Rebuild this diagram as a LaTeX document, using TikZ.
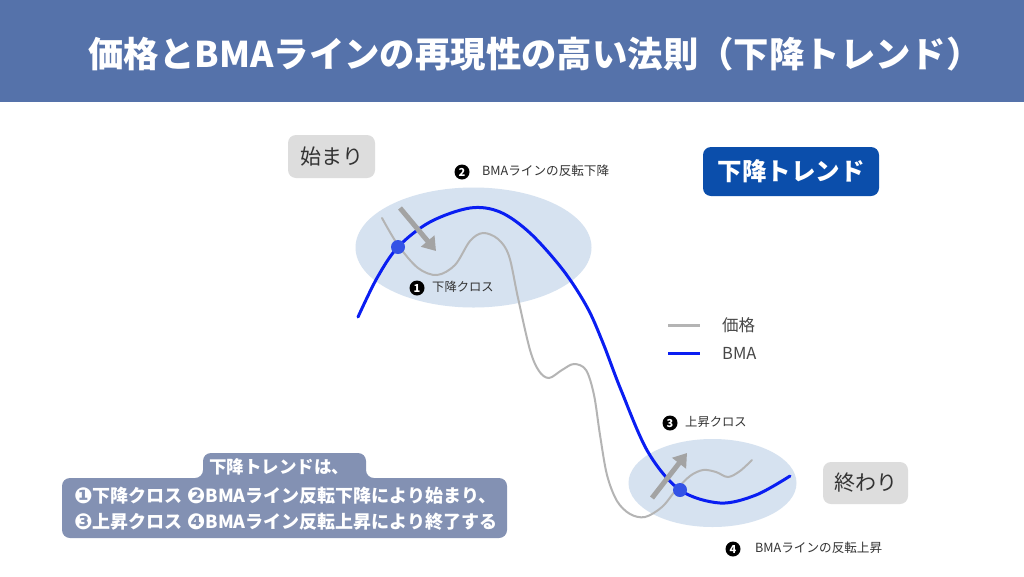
\documentclass[tikz,border=0pt]{standalone}
\usepackage{fontspec}
\setmainfont{Noto Sans CJK JP}
\newfontfamily\dv{DejaVu Sans}
\usetikzlibrary{arrows.meta,shapes.geometric}
\definecolor{titlebg}{HTML}{5572AA}
\definecolor{sumbg}{HTML}{8391B3}
\definecolor{trendbg}{HTML}{0B4EAB}
\definecolor{graybox}{HTML}{DDDDDD}
\definecolor{ellfill}{HTML}{D6E2F0}
\definecolor{bmablue}{HTML}{0A1EF2}
\definecolor{pricegray}{HTML}{B4B4B4}
\definecolor{dotblue}{HTML}{3352E6}
\definecolor{arrowgray}{HTML}{A3A3A3}
\definecolor{textdark}{HTML}{333333}
\newcommand{\cnum}[1]{{\dv\fontsize{22}{20}\selectfont\raisebox{-0.6pt}{#1}}}
\tikzset{
  zone/.style={ellipse, fill=ellfill, inner sep=0pt},
  crossdot/.style={circle, fill=dotblue, minimum size=14pt, inner sep=0pt},
  phasebox/.style={rounded corners=8pt, fill=graybox, inner sep=0pt, text=textdark, font=\fontsize{21}{24}\selectfont},
  numlabel/.style={circle, fill=black, minimum size=15pt, inner sep=0pt, text=white, font=\bfseries\fontsize{11}{12}\selectfont},
  smalllabel/.style={anchor=west, inner sep=0pt, font=\fontsize{12.3}{14}\selectfont, text=textdark},
  legendtext/.style={anchor=west, inner sep=0pt, font=\fontsize{16.5}{18}\selectfont, text=textdark!90},
  bigarrow/.style={-{Triangle[length=13pt,width=17pt]}, line width=5pt, arrowgray},
  sumtext/.style={inner sep=0pt, text=white, font=\bfseries\fontsize{18}{20}\selectfont},
}
\begin{document}
\begin{tikzpicture}[x=1pt,y=-1pt]
\useasboundingbox (0,0) rectangle (1024,576);
\fill[white] (0,0) rectangle (1024,576);
% title bar
\fill[titlebg] (0,0) rectangle (1024,102);
\node[text=white, font=\bfseries\fontsize{35.4}{40}\selectfont] (title) at (535,54) {価格とBMAラインの再現性の高い法則（下降トレンド）};

% zones
\node[zone, minimum width=236pt, minimum height=120pt] (z1) at (473.5,247.5) {};
\node[zone, minimum width=168pt, minimum height=88pt] (z2) at (712.5,483) {};

% price curve
\draw[pricegray, line width=2pt, line cap=round] plot[smooth, tension=0.55] coordinates {
 (382,218) (398,245) (418,268) (437,275) (455,265) (470,241) (483,233) (498,239) (509,256) (518,298) (530,350) (539,371) (549,378) (562,370) (574,364) (586,370) (594,395) (600,435) (607,475) (617,501) (630,514) (645,517) (662,507) (676,490) (690,476) (703,470) (716,472) (728,477) (740,471) (752,460)};

% BMA curve
\draw[bmablue, line width=3pt, line cap=round] plot[smooth, tension=0.55] coordinates {
 (358,317) (377,278) (398,247) (430,222) (470,208) (500,212) (530,233) (563,270) (587,307) (603,343) (621,390) (648,452) (680,490) (720,503) (756,495) (790,476)};

% arrows
\coordinate (a1s) at (400,208);
\coordinate (a1e) at (436,251);
\coordinate (a2s) at (652,498);
\coordinate (a2e) at (687,453);
\draw[bigarrow] (a1s) -- (a1e);
\draw[bigarrow] (a2s) -- (a2e);

% cross dots
\node[crossdot] (d1) at (398,247) {};
\node[crossdot] (d2) at (680,490) {};

% labels
\node[numlabel] (n2) at (462,172) {2};
\node[smalllabel, font=\fontsize{12.6}{14}\selectfont] (l2) at (482,171) {BMAラインの反転下降};
\node[numlabel] (n1) at (417,288) {1};
\node[smalllabel] (l1) at (432,287) {下降クロス};
\node[numlabel] (n3) at (670,423) {3};
\node[smalllabel] (l3) at (685,422) {上昇クロス};
\node[numlabel] (n4) at (733,549) {4};
\node[smalllabel, font=\fontsize{12.6}{14}\selectfont] (l4) at (755,548) {BMAラインの反転上昇};

% phase boxes
\node[phasebox, minimum width=87pt, minimum height=43pt] (start) at (331.5,156.5) {始まり};
\node[phasebox, minimum width=85pt, minimum height=42pt] (end) at (865.5,483) {終わり};
\node[rounded corners=8pt, fill=trendbg, inner sep=0pt, minimum width=176pt, minimum height=49pt, text=white, font=\bfseries\fontsize{24.5}{28}\selectfont] (trend) at (791,171.5) {下降トレンド};

% legend
\coordinate (g1a) at (668,325);
\coordinate (g1b) at (700,325);
\coordinate (g2a) at (668,353);
\coordinate (g2b) at (700,353);
\draw[pricegray, line width=3pt] (g1a) -- (g1b);
\draw[bmablue, line width=3pt] (g2a) -- (g2b);
\node[legendtext] (lg1) at (722,325) {価格};
\node[legendtext] (lg2) at (722,353) {BMA};

% summary box
\fill[sumbg, rounded corners=8pt] (62,538) -- (62,478) -- (203,478) -- (203,453) -- (366,453) -- (366,478) -- (507,478) -- (507,538) -- cycle;
\node[sumtext, font=\bfseries\fontsize{17.5}{20}\selectfont] (s1) at (279,467) {下降トレンドは、};
\node[sumtext, anchor=west] (s2) at (74,496) {\cnum{❶}下降クロス \cnum{❷}BMAライン反転下降により始まり、};
\node[sumtext, anchor=west] (s3) at (74,522) {\cnum{❸}上昇クロス \cnum{❹}BMAライン反転上昇により終了する};
\end{tikzpicture}
\end{document}
